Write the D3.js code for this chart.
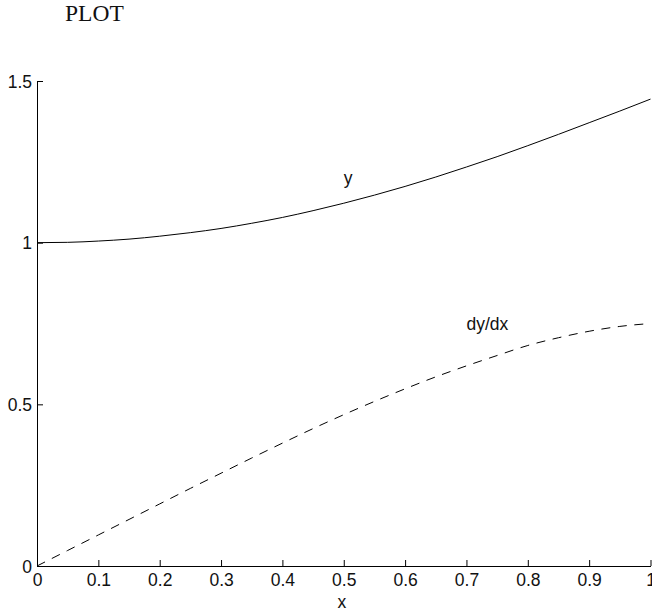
<!DOCTYPE html>
<html>
<head>
<meta charset="utf-8">
<script src="https://cdn.jsdelivr.net/npm/d3@7"></script>
<style>
  html, body { margin: 0; padding: 0; background: #fff; }
  svg { display: block; }
</style>
</head>
<body>
<svg id="chart" width="652" height="612"></svg>
<script>
// ---- data ----
const xValues    = [0, 0.05, 0.1, 0.15, 0.2, 0.25, 0.3, 0.35, 0.4, 0.45, 0.5, 0.55, 0.6, 0.65, 0.7, 0.75, 0.8, 0.85, 0.9, 0.95, 1];
const yValues    = [1.000, 1.001, 1.005, 1.011, 1.020, 1.031, 1.044, 1.060, 1.078, 1.099, 1.122, 1.147, 1.174, 1.203, 1.234, 1.266, 1.300, 1.335, 1.371, 1.407, 1.444];
const dydxValues = [0.000, 0.048, 0.096, 0.144, 0.192, 0.240, 0.287, 0.334, 0.380, 0.425, 0.468, 0.509, 0.548, 0.585, 0.619, 0.651, 0.682, 0.706, 0.726, 0.741, 0.750];

const xTicks      = [0, 0.1, 0.2, 0.3, 0.4, 0.5, 0.6, 0.7, 0.8, 0.9, 1];
const xTickLabels = ["0", "0.1", "0.2", "0.3", "0.4", "0.5", "0.6", "0.7", "0.8", "0.9", "1"];
const yTicks      = [0, 0.5, 1, 1.5];
const yTickLabels = ["0", "0.5", "1", "1.5"];

const titleText = "PLOT";
const xLabelText = "x";
const curveLabels = [
  { text: "y",     x: 0.5, y: 1.2 },
  { text: "dy/dx", x: 0.7, y: 0.75 }
];

// ---- layout ----
const svg = d3.select("#chart");
const plotLeft = 37, plotRight = 650.5, plotTop = 81, plotBottom = 566;

const x = d3.scaleLinear().domain([0, 1]).range([plotLeft, plotRight]);
const y = d3.scaleLinear().domain([0, 1.5]).range([plotBottom, plotTop]);

const sansFont = "'Liberation Sans', Arial, Helvetica, sans-serif";
const serifFont = "'Liberation Serif', 'Times New Roman', serif";
const labelSize = "17.5px";

// x axis
const xAxis = d3.axisBottom(x)
  .tickValues(xTicks)
  .tickFormat((d, i) => xTickLabels[i])
  .tickSizeInner(-6)
  .tickSizeOuter(0);

const gx = svg.append("g")
  .attr("transform", `translate(0,${plotBottom})`)
  .call(xAxis);
gx.select(".domain").attr("stroke", "#000").attr("stroke-width", 1);
gx.selectAll(".tick line").attr("stroke", "#000").attr("stroke-width", 1);
gx.selectAll(".tick text")
  .attr("y", 20)
  .attr("dy", null)
  .attr("fill", "#111")
  .style("font-family", sansFont)
  .style("font-size", labelSize);

// y axis
const yAxis = d3.axisLeft(y)
  .tickValues(yTicks)
  .tickFormat((d, i) => yTickLabels[i])
  .tickSizeInner(-6)
  .tickSizeOuter(0);

const gy = svg.append("g")
  .attr("transform", `translate(${plotLeft},0)`)
  .call(yAxis);
gy.select(".domain").attr("stroke", "#000").attr("stroke-width", 1);
gy.selectAll(".tick line").attr("stroke", "#000").attr("stroke-width", 1);
gy.selectAll(".tick text")
  .attr("x", -5)
  .attr("dy", "0.36em")
  .attr("fill", "#111")
  .style("font-family", sansFont)
  .style("font-size", labelSize);

// curves
const pts = (vals) => xValues.map((xv, i) => [xv, vals[i]]);
const line = d3.line().x(d => x(d[0])).y(d => y(d[1])).curve(d3.curveMonotoneX);

svg.append("path")
  .datum(pts(yValues))
  .attr("d", line)
  .attr("fill", "none")
  .attr("stroke", "#000")
  .attr("stroke-width", 1);

svg.append("path")
  .datum(pts(dydxValues))
  .attr("d", line)
  .attr("fill", "none")
  .attr("stroke", "#000")
  .attr("stroke-width", 1)
  .attr("stroke-dasharray", "9,7.6");

// curve labels
svg.selectAll("text.curve-label")
  .data(curveLabels)
  .enter().append("text")
  .attr("class", "curve-label")
  .attr("x", d => x(d.x))
  .attr("y", d => y(d.y))
  .attr("dy", "0.36em")
  .attr("fill", "#111")
  .style("font-family", sansFont)
  .style("font-size", labelSize)
  .text(d => d.text);

// x label
svg.append("text")
  .attr("x", (plotLeft + plotRight) / 2 - 2)
  .attr("y", 608)
  .attr("text-anchor", "middle")
  .attr("fill", "#111")
  .style("font-family", sansFont)
  .style("font-size", labelSize)
  .text(xLabelText);

// title
svg.append("text")
  .attr("x", 65)
  .attr("y", 21)
  .attr("fill", "#111")
  .style("font-family", serifFont)
  .style("font-size", "23.5px")
  .text(titleText);
</script>
</body>
</html>
